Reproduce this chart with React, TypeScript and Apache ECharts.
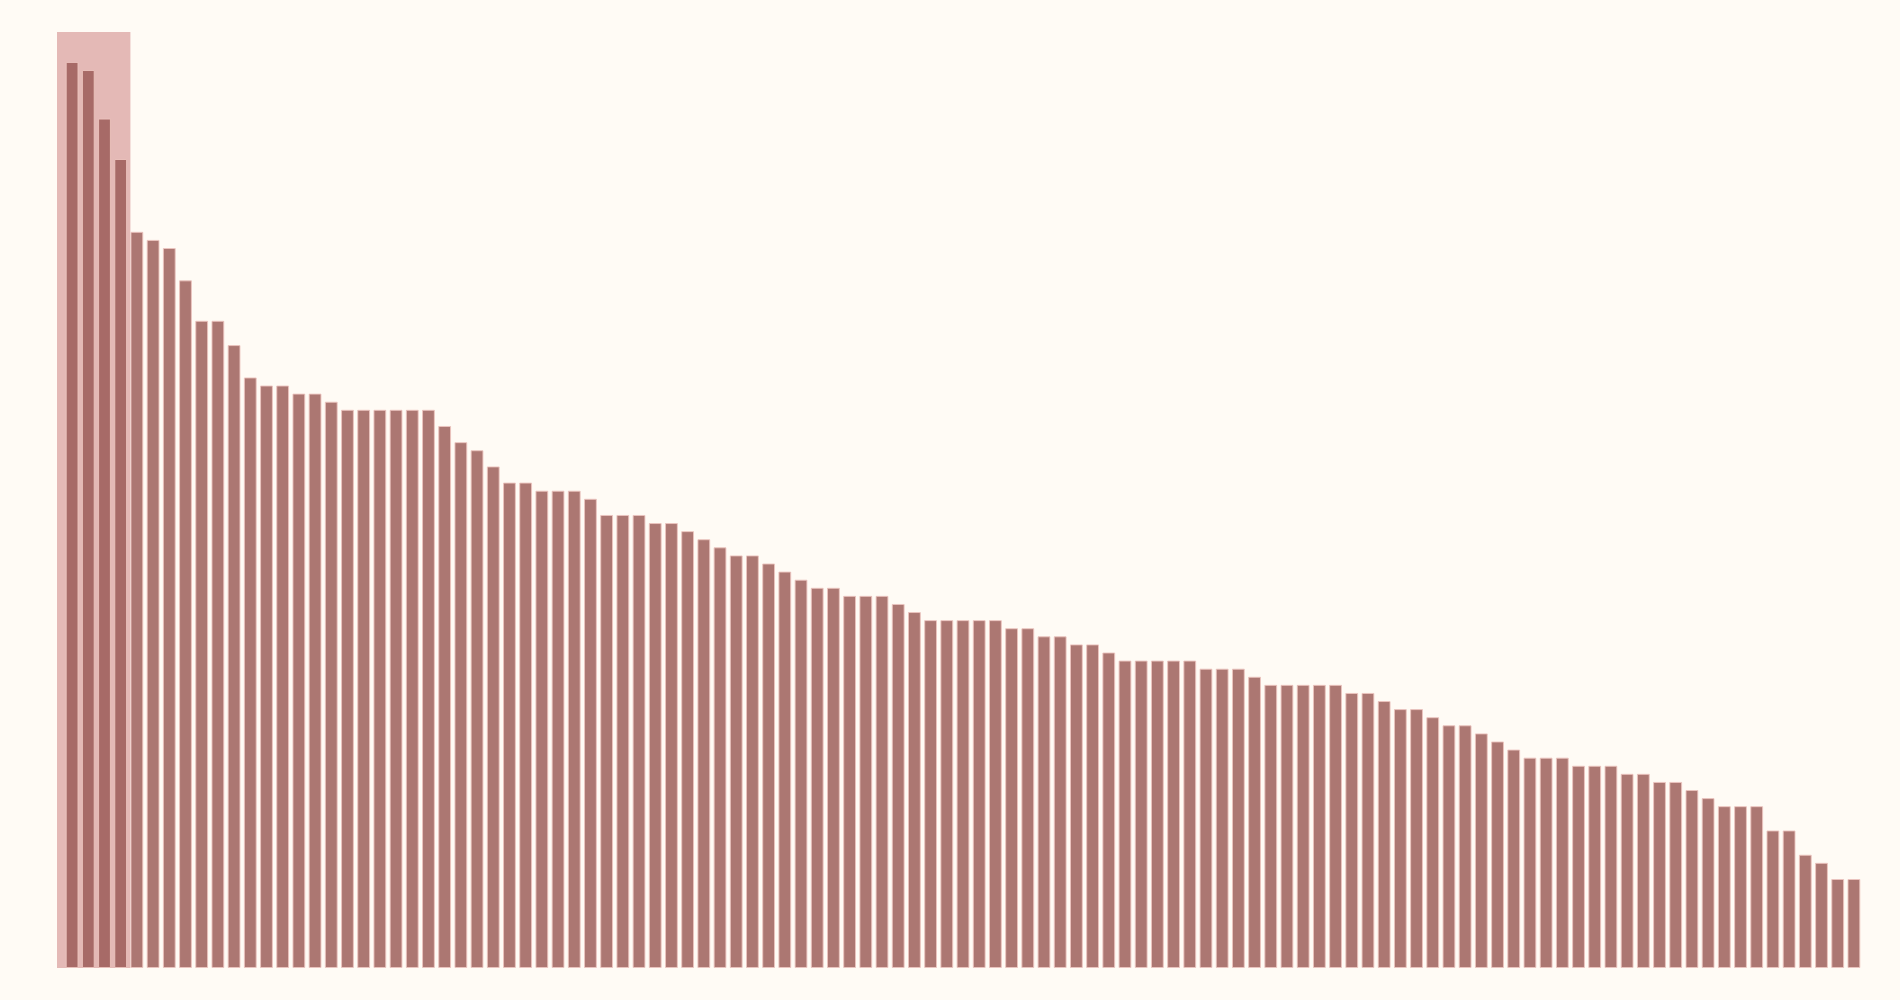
import React, { useEffect, useRef } from "react";
import * as echarts from "echarts";

// Ranked values (one bar each, descending)
const values: number[] = [
  112, 111, 105, 100, 91, 90, 89, 85, 80, 80,
  77, 73, 72, 72, 71, 71, 70, 69, 69, 69,
  69, 69, 69, 67, 65, 64, 62, 60, 60, 59,
  59, 59, 58, 56, 56, 56, 55, 55, 54, 53,
  52, 51, 51, 50, 49, 48, 47, 47, 46, 46,
  46, 45, 44, 43, 43, 43, 43, 43, 42, 42,
  41, 41, 40, 40, 39, 38, 38, 38, 38, 38,
  37, 37, 37, 36, 35, 35, 35, 35, 35, 34,
  34, 33, 32, 32, 31, 30, 30, 29, 28, 27,
  26, 26, 26, 25, 25, 25, 24, 24, 23, 23,
  22, 21, 20, 20, 20, 17, 17, 14, 13, 11,
  11,
];

const categories: string[] = values.map((_, i) => String(i + 1));

// Highlighted span (in bar units along a hidden value axis)
const highlightRange: [number, number] = [0, 4.53];
const highlightAxisMax = 111.4;
const yMax = 115.7;

const BG = "#fffbf5";

export default function App() {
  const ref = useRef<HTMLDivElement>(null);

  useEffect(() => {
    document.body.style.margin = "0";
    document.body.style.overflow = "hidden";
    document.body.style.background = BG;
    if (!ref.current) return;
    const chart = echarts.init(ref.current, undefined, { renderer: "svg" });
    chart.setOption({
      animation: false,
      backgroundColor: BG,
      grid: [
        { left: 64, right: 38, top: 32, bottom: 32 },
        { left: 57, right: 38, top: 32, bottom: 32 },
      ],
      xAxis: [
        {
          type: "category",
          gridIndex: 0,
          data: categories,
          show: false,
        },
        {
          type: "value",
          gridIndex: 1,
          min: 0,
          max: highlightAxisMax,
          show: false,
        },
      ],
      yAxis: [
        { type: "value", gridIndex: 0, min: 0, max: yMax, show: false },
        { type: "value", gridIndex: 1, min: 0, max: 1, show: false },
      ],
      series: [
        {
          type: "line",
          xAxisIndex: 1,
          yAxisIndex: 1,
          data: [],
          z: 1,
          silent: true,
          markArea: {
            silent: true,
            z: 1,
            itemStyle: { color: "#e4b9b6" },
            data: [[{ xAxis: highlightRange[0] }, { xAxis: highlightRange[1] }]],
          },
        },
        {
          type: "bar",
          xAxisIndex: 0,
          yAxisIndex: 0,
          data: values,
          z: 3,
          barCategoryGap: "21%",
          itemStyle: {
            color: "rgba(154, 89, 86, 0.82)",
            borderColor: "rgba(236, 196, 191, 0.9)",
            borderWidth: 1,
          },
        },
      ],
    });
    return () => chart.dispose();
  }, []);

  return <div ref={ref} style={{ width: 1900, height: 1000 }} />;
}
